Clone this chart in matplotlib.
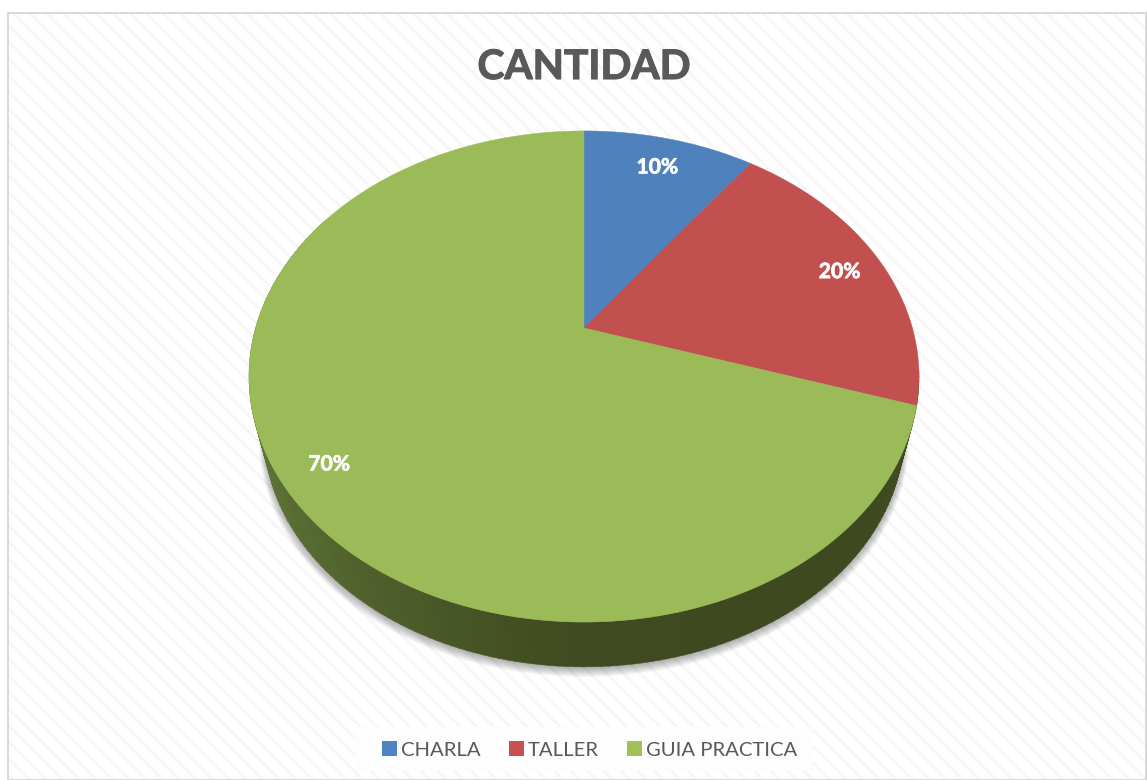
import numpy as np
import matplotlib
matplotlib.use("Agg")
import matplotlib.pyplot as plt
import matplotlib.patheffects as pe
from matplotlib.patches import Polygon, Rectangle

categories = ["CHARLA", "TALLER", "GUIA PRACTICA"]
values = [10, 20, 70]
colors = ["#4F81BD", "#C2504E", "#9BBB59"]
legend_colors = ["#5082C6", "#C85050", "#A2BF5A"]
label_radius = [0.85, 0.865, 0.86]
title = "CANTIDAD"

plt.rcParams["font.family"] = ["Lato", "DejaVu Sans"]
plt.rcParams["hatch.linewidth"] = 2.0
W, H = 1147, 780
fig = plt.figure(figsize=(W / 100, H / 100), dpi=100, facecolor="white")
ax = fig.add_axes([0, 0, 1, 1])
ax.set_xlim(0, W)
ax.set_ylim(H, 0)
ax.axis("off")

# chart area with diagonal textured background
ax.add_patch(Rectangle((8, 13), W - 9, H - 13, facecolor="white",
                       edgecolor="#F6F6F6", hatch="\\\\", lw=0, zorder=0))
ax.add_patch(Rectangle((8, 13), W - 9, H - 13, facecolor="none",
                       edgecolor="#D9D9D9", lw=1.4, zorder=0.5))

# perspective disc
CX, CY = 584.0, 328.0
A, B, K = 328.4, 236.0, 0.1975


def rim(theta, r=1.0, scale=1.0, dy=0.0):
    """theta: clockwise from the top, radians."""
    x = r * np.sin(theta)
    y = r * np.cos(theta)
    d = 1 + K * y
    return CX + scale * A * x / d, CY + dy - scale * B * y / d


# soft shadow under the disc
tt = np.linspace(0, 2 * np.pi, 400)
for i in range(12):
    e = 10 - i
    sx, sy = rim(tt, scale=0.955 + e * 0.0016, dy=58 + e * 0.35 + 2)
    ax.add_patch(Polygon(np.c_[sx, sy], closed=True, facecolor="#000000",
                         edgecolor="none", alpha=0.028, zorder=1))

# side wall, shaded strip by strip
side_stops_t = np.radians([100, 120, 150, 180, 195, 225, 250, 275, 300])
side_stops_c = np.array([
    [0x3F, 0x4A, 0x20], [0x3E, 0x49, 0x20], [0x3E, 0x49, 0x20], [0x3F, 0x4A, 0x20],
    [0x46, 0x53, 0x25], [0x55, 0x68, 0x30], [0x5F, 0x75, 0x35], [0x6B, 0x87, 0x3B],
    [0x70, 0x8E, 0x3F]]) / 255.0
ts = np.linspace(np.radians(100), np.radians(300), 161)
for t0, t1 in zip(ts[:-1], ts[1:]):
    seg = np.linspace(t0, t1 + 0.003, 4)
    ux, uy = rim(seg)
    lx, ly = rim(seg, scale=0.955, dy=58)
    tm = 0.5 * (t0 + t1)
    c = [np.interp(tm, side_stops_t, side_stops_c[:, j]) for j in range(3)]
    ax.add_patch(Polygon(np.r_[np.c_[ux, uy], np.c_[lx, ly][::-1]], closed=True,
                         facecolor=c, edgecolor=c, lw=0.3, zorder=2))

# top face wedges
bold_stroke = [pe.withStroke(linewidth=0.5, foreground="white")]
fractions = np.array(values, dtype=float) / sum(values)
edges = np.r_[0, np.cumsum(fractions)] * 2 * np.pi
for v, c, a0, a1, lr in zip(values, colors, edges[:-1], edges[1:], label_radius):
    th = np.linspace(a0, a1, 300)
    x, y = rim(th)
    ax.add_patch(Polygon(np.r_[[[CX, CY]], np.c_[x, y]], closed=True,
                         facecolor=c, edgecolor=c, lw=0.3, zorder=3))
    lx, ly = rim(0.5 * (a0 + a1), r=lr)
    ax.text(lx - 1, ly + 4, f"{v}%", color="white", fontsize=15.2, fontweight="bold",
            ha="center", va="center", zorder=4, path_effects=bold_stroke)

ax.text(CX, 79, title, color="#595959", fontsize=29.3, fontweight="bold",
        ha="center", va="baseline", zorder=4,
        path_effects=[pe.withStroke(linewidth=0.8, foreground="#595959")])

# legend
ax.add_patch(Rectangle((355, 727), 458, 44, facecolor="#FDFDFD", edgecolor="none", zorder=1))
handles = [Rectangle((0, 0), 1, 1, facecolor=c, edgecolor="none") for c in legend_colors]
ax.legend(handles, categories, loc="center", bbox_to_anchor=(589.5 / W, 1 - 750 / H),
          bbox_transform=fig.transFigure, ncol=3, frameon=False, fontsize=14.6,
          labelcolor="#595959", handlelength=0.74, handleheight=0.74,
          handletextpad=0.2, columnspacing=1.38, borderpad=0, borderaxespad=0)

fig.savefig("out.png", dpi=100, facecolor="white")
